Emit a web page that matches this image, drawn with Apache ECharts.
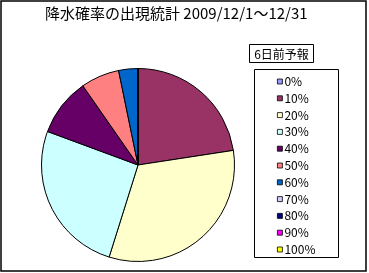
<!DOCTYPE html>
<html><head><meta charset="utf-8">
<script src="https://cdn.jsdelivr.net/npm/echarts@6/dist/echarts.min.js"></script>
<style>html,body{margin:0;padding:0;background:#fff}#c{width:369px;height:273px}</style>
</head><body><div id="c"></div>
<script>
const titleText = '降水確率の出現統計 2009/12/1～12/31';
const subTitle = '6日前予報';
const categories = ['0%','10%','20%','30%','40%','50%','60%','70%','80%','90%','100%'];
const days = [0,7,10,8,3,2,1,0,0,0,0];
const colors = ['#9999FF','#993366','#FFFFCC','#CCFFFF','#660066','#FF8080','#0066CC','#CCCCFF','#000080','#FF00FF','#FFFF00'];
const font = '"Noto Sans CJK JP", sans-serif';
const chart = echarts.init(document.getElementById('c'), null, {renderer:'canvas'});
chart.setOption({
  animation:false,
  color: colors,
  title:{text:titleText, left:45, top:6, padding:0,
    textStyle:{fontFamily:font, fontSize:15, fontWeight:'normal', color:'#000'}},
  graphic:[
    {type:'rect', shape:{x:1,y:1,width:365,height:270}, style:{fill:'none', stroke:'#000', lineWidth:1.5}, silent:true},
    {type:'rect', shape:{x:249.5,y:44.5,width:64,height:18}, style:{fill:'#fff', stroke:'#000', lineWidth:1}, silent:true},
    {type:'text', x:281.5, y:54, style:{text:subTitle, fontFamily:font, fontSize:12, fill:'#000', align:'center', verticalAlign:'middle'}, silent:true},
    {type:'rect', shape:{x:254.5,y:69.5,width:84,height:188}, style:{fill:'#fff', stroke:'#000', lineWidth:1}, silent:true, z:-1}
  ],
  legend:{orient:'vertical', left:277, top:74.5, height:190, padding:0, itemWidth:5, itemHeight:5, itemGap:2.8, icon:'rect',
    data: categories,
    itemStyle:{borderColor:'#000', borderWidth:0.8},
    textStyle:{fontFamily:font, fontSize:12, color:'#000', lineHeight:14, padding:[0,0,0,-3]}},
  series:[{type:'pie', center:[138,165], radius:96.5, startAngle:90, clockwise:true,
    label:{show:false}, labelLine:{show:false}, emphasis:{disabled:true},
    itemStyle:{borderColor:'#000', borderWidth:1},
    data: categories.map((c,i)=>({name:c, value:days[i]}))}]
});
</script></body></html>
